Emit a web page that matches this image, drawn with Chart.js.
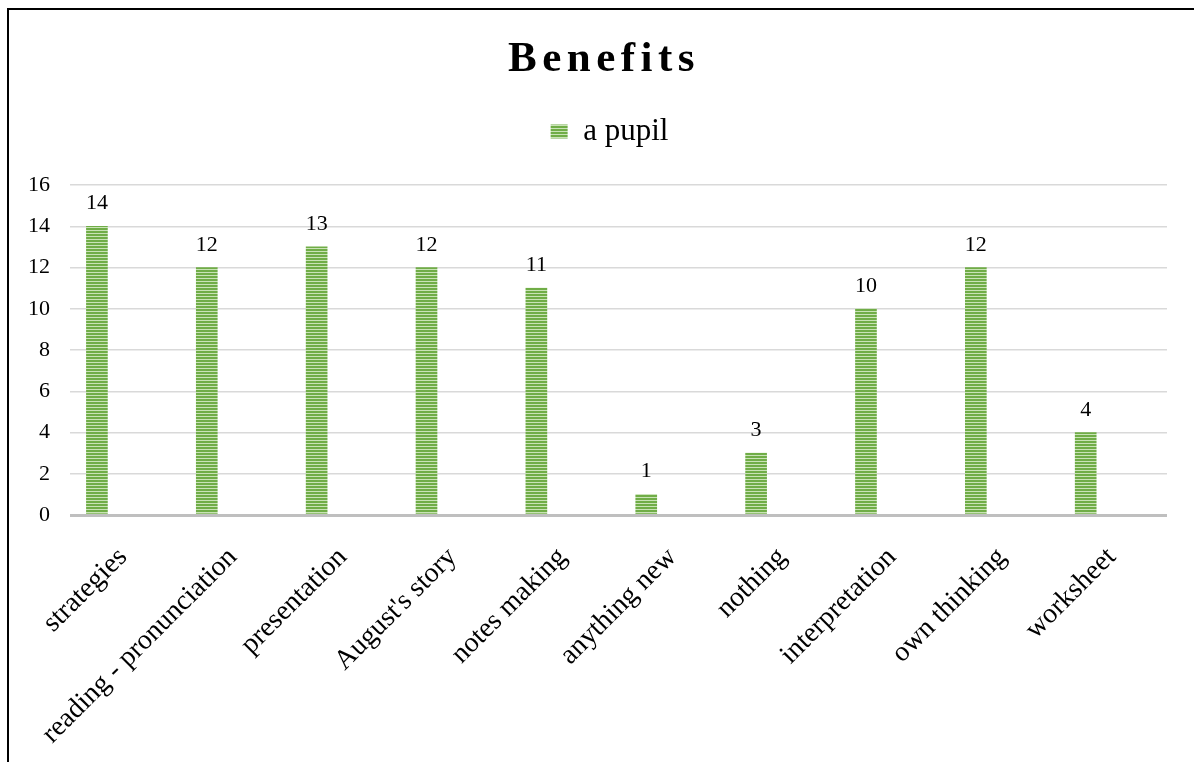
<!DOCTYPE html>
<html>
<head>
<meta charset="utf-8">
<script src="https://cdn.jsdelivr.net/npm/chart.js@4/dist/chart.umd.min.js"></script>
<style>
  body { margin: 0; background: #fff; }
  #wrap { position: relative; width: 1194px; height: 762px; overflow: hidden; }
  #frame { position: absolute; left: 7px; top: 8px; width: 1300px; height: 900px;
           border-left: 2px solid #000; border-top: 2px solid #000; }
  #box { position: absolute; left: 0; top: 0; width: 1194px; height: 762px; }
</style>
</head>
<body>
<div id="wrap">
  <div id="frame"></div>
  <div id="box"><canvas id="grafico"></canvas></div>
</div>
<script>
// datos del grafico
const categorias = ["strategies", "reading - pronunciation", "presentation", "August's story",
  "notes making", "anything new", "nothing", "interpretation", "own thinking", "worksheet"];
const valores = [14, 12, 13, 12, 11, 1, 3, 10, 12, 4];
const serie = "a pupil";
const titulo = "Benefits";
const yMin = 0, yMax = 16, yPaso = 2;

const fuente = "'Liberation Serif', 'Times New Roman', serif";

// relleno rayado verde de las barras
function crearRayas() {
  const c = document.createElement("canvas");
  c.width = 4; c.height = 3;
  const g = c.getContext("2d");
  g.fillStyle = "#70ad47";
  g.fillRect(0, 0, 4, 3);
  g.fillStyle = "#c9e3b6";
  g.fillRect(0, 2, 4, 1);
  return g.createPattern(c, "repeat");
}

// numeros encima de cada barra
const etiquetasValor = {
  id: "etiquetasValor",
  afterDatasetsDraw(chart) {
    const ctx = chart.ctx;
    ctx.save();
    ctx.font = "22px " + fuente;
    ctx.fillStyle = "#000";
    ctx.textAlign = "center";
    ctx.textBaseline = "alphabetic";
    chart.getDatasetMeta(0).data.forEach((barra, i) => {
      ctx.fillText(String(valores[i]), barra.x, barra.y - 17);
    });
    ctx.restore();
  }
};

// titulo con espaciado entre letras
const tituloEspaciado = {
  id: "tituloEspaciado",
  afterDraw(chart) {
    const ctx = chart.ctx;
    ctx.save();
    ctx.font = "bold 43px " + fuente;
    ctx.letterSpacing = "5.5px";
    ctx.fillStyle = "#000";
    ctx.textAlign = "center";
    ctx.textBaseline = "alphabetic";
    ctx.fillText(titulo, 604, 71);
    ctx.restore();
  }
};

// alto fijo para la leyenda y un poco corrida a la derecha
const ajusteLeyenda = {
  id: "ajusteLeyenda",
  beforeInit(chart) {
    const fitOriginal = chart.legend.fit;
    chart.legend.fit = function () {
      fitOriginal.call(this);
      this.height = 79;
    };
  },
  afterLayout(chart) {
    chart.legend.left += 16;
    chart.legend.right += 16;
  }
};

const rayas = crearRayas();

new Chart(document.getElementById("grafico"), {
  type: "bar",
  data: {
    datasets: [{
      label: serie,
      data: valores.map((v, i) => ({ x: i, y: v })),
      backgroundColor: rayas,
      borderWidth: 0,
      barThickness: 21
    }]
  },
  options: {
    responsive: true,
    maintainAspectRatio: false,
    animation: false,
    layout: { padding: { left: 20, right: 27, top: 106, bottom: 0 } },
    plugins: {
      title: { display: false },
      tooltip: { enabled: false },
      legend: {
        position: "top",
        labels: {
          font: { family: fuente, size: 31 },
          color: "#000",
          boxWidth: 17,
          boxHeight: 14,
          padding: 10
        }
      }
    },
    scales: {
      x: {
        type: "linear",
        min: -0.245,
        max: 9.74,
        offset: false,
        grid: { display: false },
        border: { display: false },
        afterBuildTicks(scale) {
          scale.ticks = categorias.map((c, i) => ({ value: i }));
        },
        afterFit(scale) {
          scale.height = 247;
        },
        ticks: {
          autoSkip: false,
          minRotation: 45,
          maxRotation: 45,
          labelOffset: 26,
          padding: 18,
          color: "#000",
          font: { family: fuente, size: 28 },
          callback: (v) => categorias[v]
        }
      },
      y: {
        min: yMin,
        max: yMax,
        border: { display: false },
        grid: {
          drawTicks: false,
          color: (c) => (c.tick && c.tick.value === 0 ? "#bfbfbf" : "#d9d9d9"),
          lineWidth: (c) => (c.tick && c.tick.value === 0 ? 3 : 1.5)
        },
        afterFit(scale) {
          scale.width = 50;
        },
        ticks: {
          stepSize: yPaso,
          padding: 20,
          color: "#000",
          font: { family: fuente, size: 22 }
        }
      }
    }
  },
  plugins: [etiquetasValor, tituloEspaciado, ajusteLeyenda]
});
</script>
</body>
</html>
